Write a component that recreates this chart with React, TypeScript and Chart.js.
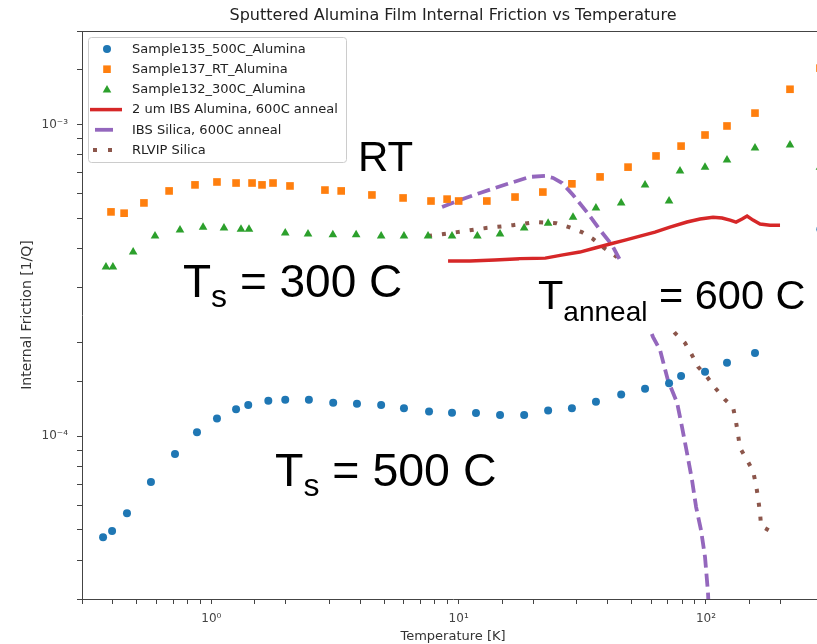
import React, { useEffect, useRef } from 'react';
import { Chart, registerables } from 'chart.js';

Chart.register(...registerables);

const TITLE = 'Sputtered Alumina Film Internal Friction vs Temperature';
const X_LABEL = 'Temperature [K]';
const Y_LABEL = 'Internal Friction [1/Q]';

// Sample135_500C_Alumina (blue circles)
const S135_T = [0.365, 0.397, 0.456, 0.570, 0.713, 0.875, 1.054, 1.259, 1.41, 1.70, 1.99, 2.48, 3.11, 3.88, 4.86, 6.01, 7.59, 9.40, 11.75, 14.7, 18.4, 23.0, 28.7, 35.9, 45.4, 56.7, 70.9, 79.3, 99.1, 121.6, 157.8, 290];
const S135_Q = [4.74e-5, 4.96e-5, 5.66e-5, 7.13e-5, 8.77e-5, 1.03e-4, 1.14e-4, 1.22e-4, 1.26e-4, 1.30e-4, 1.31e-4, 1.31e-4, 1.28e-4, 1.27e-4, 1.26e-4, 1.23e-4, 1.20e-4, 1.19e-4, 1.186e-4, 1.17e-4, 1.17e-4, 1.21e-4, 1.23e-4, 1.29e-4, 1.36e-4, 1.42e-4, 1.48e-4, 1.56e-4, 1.61e-4, 1.72e-4, 1.85e-4, 4.62e-4];

// Sample137_RT_Alumina (orange squares)
const S137_T = [0.393, 0.444, 0.534, 0.675, 0.859, 1.054, 1.259, 1.461, 1.603, 1.776, 2.08, 2.88, 3.35, 4.46, 5.96, 7.73, 8.98, 10.0, 13.0, 16.9, 21.9, 28.7, 37.3, 48.4, 62.8, 79.3, 99.1, 121.6, 157.8, 218.6, 289];
const S137_Q = [5.25e-4, 5.20e-4, 5.61e-4, 6.13e-4, 6.41e-4, 6.55e-4, 6.50e-4, 6.50e-4, 6.41e-4, 6.50e-4, 6.36e-4, 6.17e-4, 6.13e-4, 5.95e-4, 5.82e-4, 5.69e-4, 5.77e-4, 5.69e-4, 5.69e-4, 5.86e-4, 6.08e-4, 6.46e-4, 6.80e-4, 7.31e-4, 7.94e-4, 8.54e-4, 9.27e-4, 9.91e-4, 1.09e-3, 1.30e-3, 1.52e-3];

// Sample132_300C_Alumina (green triangles)
const S132_T = [0.375, 0.400, 0.483, 0.592, 0.747, 0.926, 1.125, 1.318, 1.420, 1.99, 2.46, 3.10, 3.85, 4.86, 6.01, 7.52, 9.40, 11.9, 14.7, 18.4, 23.0, 29.0, 35.9, 45.4, 56.7, 70.9, 78.5, 99.1, 121.6, 157.8, 218.6, 289];
const S132_Q = [3.49e-4, 3.49e-4, 3.90e-4, 4.39e-4, 4.59e-4, 4.69e-4, 4.66e-4, 4.62e-4, 4.62e-4, 4.49e-4, 4.46e-4, 4.43e-4, 4.43e-4, 4.39e-4, 4.39e-4, 4.39e-4, 4.39e-4, 4.39e-4, 4.46e-4, 4.66e-4, 4.83e-4, 5.05e-4, 5.40e-4, 5.61e-4, 6.41e-4, 5.69e-4, 7.10e-4, 7.31e-4, 7.70e-4, 8.42e-4, 8.61e-4, 7.31e-4];

// 2 um IBS Alumina, 600C anneal (red solid)
const IBSA_T = [9.06, 11.1, 14.0, 17.7, 22.4, 26.4, 30.9, 35.6, 40.9, 47.1, 54.1, 62.2, 71.5, 83.8, 94.6, 106.8, 116.1, 125.1, 132.3, 139.9, 146.6, 154.9, 165.4, 181.5, 199.2];
const IBSA_Q = [3.65e-4, 3.65e-4, 3.68e-4, 3.71e-4, 3.73e-4, 3.82e-4, 3.90e-4, 4.02e-4, 4.14e-4, 4.26e-4, 4.39e-4, 4.52e-4, 4.69e-4, 4.87e-4, 4.98e-4, 5.05e-4, 5.02e-4, 4.94e-4, 4.87e-4, 4.98e-4, 5.09e-4, 4.94e-4, 4.80e-4, 4.76e-4, 4.76e-4];

// IBS Silica, 600C anneal (purple dashed)
const IBSS_T = [8.57, 10.13, 12.2, 15.7, 19.4, 22.4, 24.1, 26.2, 29.0, 33.0, 37.3, 41.7, 44.9, 61.1, 65.2, 70.2, 76.4, 80.0, 83.8, 87.8, 91.2, 95.5, 99.1, 101.9, 102.5];
const IBSS_Q = [5.44e-4, 5.73e-4, 6.04e-4, 6.45e-4, 6.80e-4, 6.85e-4, 6.75e-4, 6.50e-4, 5.95e-4, 5.24e-4, 4.59e-4, 4.11e-4, 3.68e-4, 2.08e-4, 1.89e-4, 1.51e-4, 1.28e-4, 1.07e-4, 8.83e-5, 7.23e-5, 5.92e-5, 4.99e-5, 4.09e-5, 3.14e-5, 2.8e-5];

// RLVIP Silica (brown dotted)
const RLVIP_T = [7.52, 9.85, 12.9, 16.6, 20.4, 24.8, 27.9, 31.5, 34.9, 38.7, 43.7, 75.0, 82.3, 87.8, 92.9, 101.0, 108.8, 119.4, 128.6, 132.3, 134.8, 137.3, 146.6, 154.9, 159.4, 162.4, 165.4, 167.0, 184.9];
const RLVIP_Q = [4.39e-4, 4.52e-4, 4.66e-4, 4.76e-4, 4.87e-4, 4.83e-4, 4.69e-4, 4.52e-4, 4.30e-4, 4.02e-4, 3.76e-4, 2.14e-4, 1.99e-4, 1.82e-4, 1.67e-4, 1.55e-4, 1.43e-4, 1.31e-4, 1.24e-4, 1.11e-4, 1.01e-4, 9.16e-5, 8.38e-5, 7.73e-5, 6.97e-5, 6.33e-5, 5.66e-5, 5.15e-5, 4.92e-5];

const X_MIN = 0.3;
const X_MAX = 300;
const Y_MIN = 3e-5;
const Y_MAX = 2e-3;

const SUP: Record<string, string> = { '-': '⁻', '0': '⁰', '1': '¹', '2': '²', '3': '³', '4': '⁴', '5': '⁵', '6': '⁶', '7': '⁷', '8': '⁸', '9': '⁹' };

function decadeLabel(v: number): string {
  const e = Math.log10(v);
  const r = Math.round(e);
  if (Math.abs(e - r) < 1e-6) {
    return '10' + String(r).split('').map((c) => SUP[c] || c).join('');
  }
  return '';
}

const pts = (xs: number[], ys: number[]) => xs.map((x, i) => ({ x, y: ys[i] }));

const SANS = '"DejaVu Sans", sans-serif';
const ARIAL = '"Liberation Sans", Arial, sans-serif';

function subText(ctx: CanvasRenderingContext2D, x: number, base: number, main: string, sub: string, rest: string, size: number, subSize: number, drop: number) {
  ctx.font = `${size}px ${ARIAL}`;
  ctx.fillText(main, x, base);
  let w = ctx.measureText(main).width;
  ctx.font = `${subSize}px ${ARIAL}`;
  ctx.fillText(sub, x + w, base + drop);
  w += ctx.measureText(sub).width;
  ctx.font = `${size}px ${ARIAL}`;
  ctx.fillText(rest, x + w, base);
}

const decorPlugin = {
  id: 'decor',
  afterDatasetsDraw(chart: any) {
    const ctx: CanvasRenderingContext2D = chart.ctx;
    ctx.save();
    // white box behind anneal annotation
    ctx.fillStyle = '#ffffff';
    ctx.fillRect(519, 260.5, 320, 70.5);
    ctx.fillStyle = '#000000';
    ctx.textBaseline = 'alphabetic';
    ctx.textAlign = 'left';
    ctx.font = `42px ${ARIAL}`;
    ctx.fillText('RT', 358, 171);
    subText(ctx, 183, 297, 'T', 's', ' = 300 C', 46, 32, 10);
    subText(ctx, 275, 486, 'T', 's', ' = 500 C', 46.5, 32, 10);
    subText(ctx, 538, 309, 'T', 'anneal', ' = 600 C', 41.5, 28, 12);
    ctx.restore();
  },
  afterDraw(chart: any) {
    const ctx: CanvasRenderingContext2D = chart.ctx;
    const area = chart.chartArea;
    ctx.save();
    // top spine
    ctx.strokeStyle = '#444';
    ctx.lineWidth = 1;
    ctx.beginPath();
    ctx.moveTo(area.left, area.top + 0.5);
    ctx.lineTo(area.right, area.top + 0.5);
    ctx.stroke();
    // title
    ctx.fillStyle = '#222';
    ctx.font = `16px ${SANS}`;
    ctx.textAlign = 'center';
    ctx.textBaseline = 'middle';
    ctx.fillText(TITLE, (area.left + area.right) / 2, 16);

    // legend
    const lx = 88, ly = 37, lw = 258, lh = 125;
    ctx.fillStyle = 'rgba(255,255,255,0.85)';
    ctx.strokeStyle = '#cccccc';
    ctx.lineWidth = 1;
    ctx.beginPath();
    (ctx as any).roundRect(lx + 0.5, ly + 0.5, lw, lh, 3);
    ctx.fill();
    ctx.stroke();
    const ds = chart.data.datasets;
    ctx.textAlign = 'left';
    ctx.textBaseline = 'middle';
    ds.forEach((d: any, i: number) => {
      const cy = 49 + i * 20.2;
      const cx = 107;
      ctx.save();
      if (!d.showLine) {
        ctx.fillStyle = d.backgroundColor;
        ctx.beginPath();
        if (d.pointStyle === 'circle') {
          ctx.arc(cx, cy, 4, 0, Math.PI * 2);
        } else if (d.pointStyle === 'rect') {
          ctx.rect(cx - 3.8, cy - 3.8, 7.6, 7.6);
        } else {
          ctx.moveTo(cx, cy - 4.5);
          ctx.lineTo(cx + 4.3, cy + 3);
          ctx.lineTo(cx - 4.3, cy + 3);
          ctx.closePath();
        }
        ctx.fill();
      } else {
        ctx.strokeStyle = d.borderColor;
        ctx.lineWidth = d.borderWidth;
        ctx.beginPath();
        if (d.borderDash && d.borderDash[0] > 6) {
          ctx.moveTo(95, cy);
          ctx.lineTo(113, cy);
        } else if (d.borderDash) {
          ctx.fillStyle = d.borderColor;
          ctx.fillRect(93, cy - 2, 4, 4);
          ctx.fillRect(108, cy - 2, 4, 4);
        } else {
          ctx.moveTo(90, cy);
          ctx.lineTo(122, cy);
        }
        ctx.stroke();
      }
      ctx.restore();
      ctx.fillStyle = '#222';
      ctx.font = `13px ${SANS}`;
      ctx.fillText(d.label, 132, cy + 0.5);
    });
    ctx.restore();
  },
};

export default function App() {
  const ref = useRef<HTMLCanvasElement | null>(null);
  useEffect(() => {
    if (!ref.current) return;
    const axisCommon = (afterFit: (s: any) => void, title: string, titleSize: number, titlePad: any, tickPad: number) => ({
      type: 'logarithmic' as const,
      afterFit,
      grid: { drawOnChartArea: false, drawTicks: true, tickLength: 5, color: '#444' },
      border: { display: true, color: '#444', width: 1 },
      ticks: {
        autoSkip: false,
        maxRotation: 0,
        padding: tickPad,
        color: '#444',
        font: { family: 'DejaVu Sans', size: 12 },
        callback: (v: any) => decadeLabel(Number(v)),
      },
      title: { display: true, text: title, color: '#333', font: { family: 'DejaVu Sans', size: titleSize }, padding: titlePad },
    });
    const chart = new Chart(ref.current, {
      type: 'scatter',
      data: {
        datasets: [
          { label: 'Sample135_500C_Alumina', data: pts(S135_T, S135_Q), showLine: false, pointStyle: 'circle', pointRadius: 4, backgroundColor: '#1f77b4', borderColor: '#1f77b4', pointBorderWidth: 0 },
          { label: 'Sample137_RT_Alumina', data: pts(S137_T, S137_Q), showLine: false, pointStyle: 'rect', pointRadius: 5.4, backgroundColor: '#ff7f0e', borderColor: '#ff7f0e', pointBorderWidth: 0 },
          { label: 'Sample132_300C_Alumina', data: pts(S132_T, S132_Q), showLine: false, pointStyle: 'triangle', pointRadius: 5, backgroundColor: '#2ca02c', borderColor: '#2ca02c', pointBorderWidth: 0 },
          { label: '2 um IBS Alumina, 600C anneal', data: pts(IBSA_T, IBSA_Q), showLine: true, pointRadius: 0, borderColor: '#d62728', backgroundColor: '#d62728', borderWidth: 3.5, tension: 0 },
          { label: 'IBS Silica, 600C anneal', data: pts(IBSS_T, IBSS_Q), showLine: true, pointRadius: 0, borderColor: '#9467bd', backgroundColor: '#9467bd', borderWidth: 3.8, borderDash: [13, 6], borderCapStyle: 'butt', tension: 0 },
          { label: 'RLVIP Silica', data: pts(RLVIP_T, RLVIP_Q), showLine: true, pointRadius: 0, borderColor: '#8c564b', backgroundColor: '#8c564b', borderWidth: 4, borderDash: [4, 10], borderCapStyle: 'butt', tension: 0 },
        ] as any,
      },
      options: {
        responsive: false,
        animation: false,
        events: [],
        layout: { padding: { top: 31, right: 8, left: 0, bottom: 0 } },
        plugins: { legend: { display: false }, title: { display: false }, tooltip: { enabled: false } },
        scales: {
          x: { ...axisCommon((s: any) => { s.height = 45; }, X_LABEL, 13, { top: 0, bottom: 0 }, 8), min: X_MIN, max: X_MAX, position: 'bottom' },
          y: { ...axisCommon((s: any) => { s.width = 82; }, Y_LABEL, 14, { top: 19, bottom: 0 }, 9), min: Y_MIN, max: Y_MAX, position: 'left' },
        } as any,
      },
      plugins: [decorPlugin],
    });
    return () => chart.destroy();
  }, []);
  return (
    <div style={{ position: 'absolute', left: 0, top: 0, width: 817, height: 644, overflow: 'hidden', background: '#fff' }}>
      <canvas ref={ref} width={832} height={644} style={{ width: 832, height: 644, display: 'block' }} />
    </div>
  );
}
